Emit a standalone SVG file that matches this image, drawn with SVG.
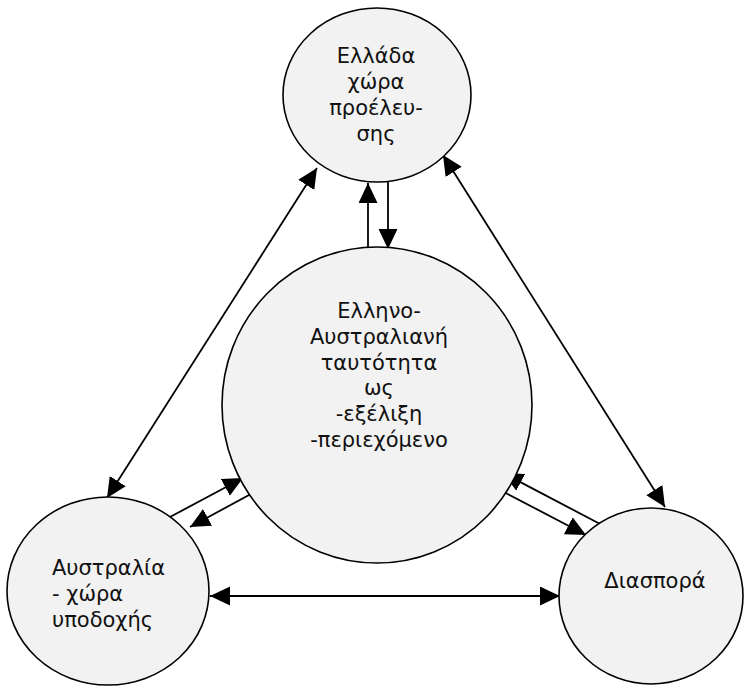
<svg xmlns="http://www.w3.org/2000/svg" width="744" height="686" viewBox="0 0 744 686">
  <defs>
    <marker id="arrow" markerUnits="userSpaceOnUse" markerWidth="20" markerHeight="20" refX="20" refY="9.5" orient="auto-start-reverse">
      <path d="M0,0 L20,9.5 L0,19 z" fill="#000"/>
    </marker>
    <style>
      .node ellipse { fill: #f2f2f2; stroke: #000; stroke-width: 1.6; }
      .node text { font-family: "DejaVu Sans", "Liberation Sans", sans-serif; font-size: 21px; fill: #111; }
      .mid { text-anchor: middle; }
      .edges line { stroke: #000; stroke-width: 1.8; }
      .one { marker-end: url(#arrow); }
      .both { marker-start: url(#arrow); marker-end: url(#arrow); }
    </style>
  </defs>

  <rect width="744" height="686" fill="#fff"/>

  <!-- connectors -->
  <g id="edges" class="edges">
    <line class="both" x1="317" y1="168" x2="107" y2="498"/>
    <line class="both" x1="443" y1="155" x2="665" y2="507"/>
    <line class="both" x1="210" y1="596" x2="560" y2="596"/>
    <line class="one" x1="368" y1="249" x2="368" y2="183"/>
    <line class="one" x1="388" y1="182" x2="388" y2="249"/>
    <line class="one" x1="170" y1="517" x2="243" y2="478"/>
    <line class="one" x1="260" y1="489" x2="190" y2="527"/>
    <line class="one" x1="602" y1="525" x2="503" y2="473"/>
    <line class="one" x1="502" y1="491" x2="586" y2="535"/>
  </g>

  <g id="greece" class="node">
    <ellipse cx="377" cy="95" rx="94" ry="87"/>
    <text class="mid" x="376" y="63">Ελλάδα</text>
    <text class="mid" x="376" y="89">χώρα</text>
    <text class="mid" x="376" y="115">προέλευ-</text>
    <text class="mid" x="376" y="141">σης</text>
  </g>

  <g id="identity" class="node">
    <ellipse cx="377" cy="405" rx="155" ry="158"/>
    <text class="mid" x="379" y="318">Ελληνο-</text>
    <text class="mid" x="379" y="344">Αυστραλιανή</text>
    <text class="mid" x="379" y="370">ταυτότητα</text>
    <text class="mid" x="379" y="395">ως</text>
    <text class="mid" x="379" y="421">-εξέλιξη</text>
    <text class="mid" x="379" y="447">-περιεχόμενο</text>
  </g>

  <g id="australia" class="node">
    <ellipse cx="108" cy="591" rx="101" ry="94"/>
    <text x="52" y="575">Αυστραλία</text>
    <text x="52" y="601">- χώρα</text>
    <text x="52" y="627">υποδοχής</text>
  </g>

  <g id="diaspora" class="node">
    <ellipse cx="651" cy="596" rx="92" ry="88"/>
    <text class="mid" x="655" y="588">Διασπορά</text>
  </g>
</svg>
